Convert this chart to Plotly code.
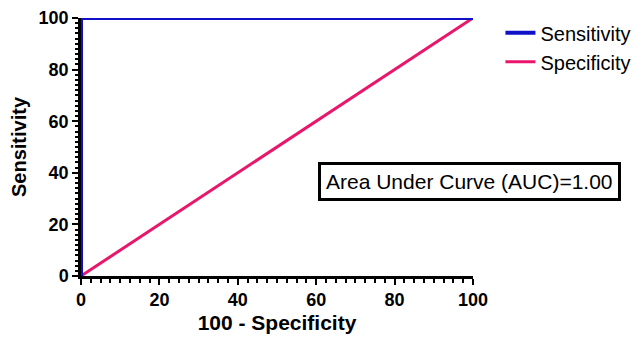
import plotly.graph_objects as go

sens_x = [0, 0, 100]
sens_y = [0, 100, 100]
spec_x = [0, 100]
spec_y = [0, 100]
auc_text = "Area Under Curve (AUC)=1.00"

fig = go.Figure()
fig.add_trace(go.Scatter(x=spec_x, y=spec_y, mode="lines", name="Specificity",
                         line=dict(color="#E8176B", width=3), cliponaxis=False))
fig.add_trace(go.Scatter(x=sens_x, y=sens_y, mode="lines", name="Sensitivity",
                         line=dict(color="#1010C8", width=4), cliponaxis=False))

fig.add_annotation(x=0.605, y=0.368, xref="paper", yref="paper", xanchor="left", yanchor="middle",
                   text=auc_text, showarrow=False,
                   font=dict(family="Arial", size=21, color="black"),
                   bordercolor="black", borderwidth=3, borderpad=5, bgcolor="white")

axis_common = dict(showgrid=False, zeroline=False, showline=True, linecolor="black", linewidth=2.5,
                   ticks="outside", ticklen=6, tickwidth=2, tickcolor="black",
                   tickfont=dict(family="Arial", size=18, color="black", weight="bold"),
                   range=[0, 100], dtick=20, automargin=False)

fig.update_xaxes(**axis_common,
                 minor=dict(dtick=2.5, ticks="outside", ticklen=4, tickwidth=2, tickcolor="black"),
                 title=dict(text="100 - Specificity", font=dict(family="Arial", size=21, color="black", weight="bold"), standoff=6))
fig.update_yaxes(**axis_common,
                 minor=dict(dtick=2, ticks="outside", ticklen=3, tickwidth=2, tickcolor="black"),
                 title=dict(text="Sensitivity", font=dict(family="Arial", size=20, color="black", weight="bold"), standoff=8))

fig.update_layout(width=635, height=329, plot_bgcolor="white", paper_bgcolor="white",
                  margin=dict(l=73, r=170, t=10, b=61, autoexpand=False),
                  legend=dict(x=1.07, y=1.018, xanchor="left", yanchor="top", traceorder="reversed",
                              font=dict(family="Arial", size=20, color="black"),
                              bgcolor="rgba(0,0,0,0)"),
                  showlegend=True)

fig.write_html("out.html")
